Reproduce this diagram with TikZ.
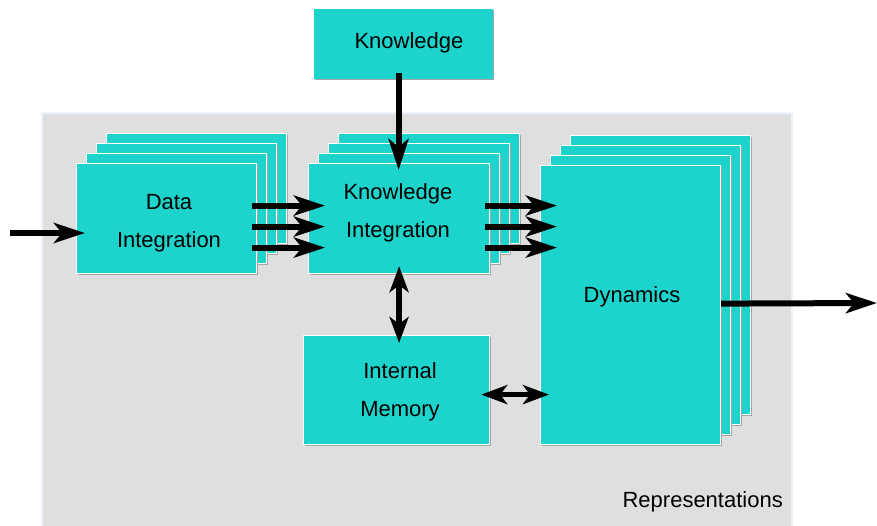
\documentclass[tikz,border=0pt]{standalone}
\usepackage{fontspec}
\setmainfont{Liberation Sans}
\usetikzlibrary{arrows.meta,shadows}
\definecolor{boxcyan}{RGB}{29,212,204}
\definecolor{panel}{RGB}{223,223,223}
\definecolor{panelrim}{RGB}{236,243,250}
\definecolor{shade}{RGB}{165,165,165}
\begin{document}
\begin{tikzpicture}[x=1pt,y=-1pt,
  box/.style={draw=white, line width=1.2pt, fill=boxcyan, inner sep=0pt,
    anchor=north west,
    general shadow={fill=shade, shadow xshift=1.6pt, shadow yshift=-1.6pt}},
  lbl/.style={font=\fontsize{22}{38}\selectfont, align=center, inner sep=0pt},
  arr/.style={line width=6pt, -{Stealth[length=31pt,width=20pt,inset=8pt]}},
  darr/.style={line width=5.5pt,
    {Stealth[length=26pt,width=19pt,inset=7pt]}-{Stealth[length=26pt,width=19pt,inset=7pt]}}]
\useasboundingbox (0,0) rectangle (877,525);

% grey panel holding the representation blocks
\fill[panel] (42,113) rectangle (792,527);
\draw[panelrim, line width=2pt] (42,527) -- (42,113) -- (792,113) -- (792,527);

% external knowledge source
\node[box, draw=none, minimum width=179pt, minimum height=70pt] (kn) at (313,8) {};

% stacked blocks: three copies behind each front block
\foreach \k in {3,2,1} {
  \node[box, minimum width=180pt, minimum height=110pt] (di\k) at ({76+10*\k},{163-10*\k}) {};
  \node[box, minimum width=181pt, minimum height=110pt] (ki\k) at ({308+10*\k},{163-10*\k}) {};
  \node[box, minimum width=180pt, minimum height=279pt] (dy\k) at ({540+10*\k},{165-10*\k}) {};
}
\node[box, minimum width=180pt, minimum height=110pt] (di) at (76,163) {};
\node[box, minimum width=181pt, minimum height=110pt] (ki) at (308,163) {};
\node[box, minimum width=180pt, minimum height=279pt] (dyn) at (540,165) {};
\node[box, minimum width=186pt, minimum height=109pt] (mem) at (303,335) {};

% labels
\node[lbl] (knt) at (409,43) {Knowledge};
\node[lbl] (dit) at (169,223) {Data\\Integration};
\node[lbl] (kit) at (398,213) {Knowledge\\Integration};
\node[lbl] (dyt) at (632,297) {Dynamics};
\node[lbl] (memt) at (400,392) {Internal\\Memory};
\node[lbl, anchor=east] (rep) at (783,502) {Representations};

% connectors
\coordinate (in) at (10,233);
\coordinate (out) at (877,303);
\draw[arr, shorten >=-9pt] (in) -- (in -| di.west);
\foreach \s in {13,-8,-29} {
  \draw[arr, shorten <=-5pt, shorten >=-17pt]
    ([yshift=\s pt]di.east) -- ([yshift=\s pt]di.east -| ki.west);
  \draw[arr, shorten <=-5pt, shorten >=-17pt]
    ([yshift=\s pt]ki.east) -- ([yshift=\s pt]ki.east -| dyn.west);
}
\draw[arr, shorten <=-6pt, shorten >=-7pt]
  ([xshift=-4.5pt]kn.south) -- ([xshift=-4.5pt]kn.south |- ki.north);
\draw[darr, shorten <=-8pt, shorten >=-8pt] (ki.south) -- (ki.south |- mem.north);
\draw[darr, shorten <=-9pt, shorten >=-9pt]
  ([yshift=-4.5pt]mem.east) -- ([yshift=-4.5pt]mem.east -| dyn.west);
\draw[arr] ([yshift=1.5pt]dyn.east) -- (out);
\end{tikzpicture}
\end{document}
